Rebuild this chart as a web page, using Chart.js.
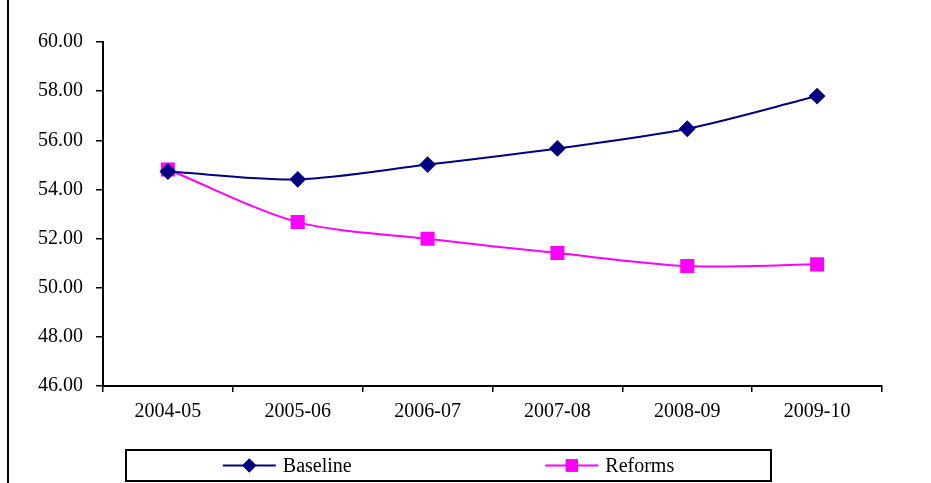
<!DOCTYPE html>
<html>
<head>
<meta charset="utf-8">
<script src="https://cdn.jsdelivr.net/npm/chart.js@4/dist/chart.umd.min.js"></script>
<style>
  html, body { margin: 0; padding: 0; background: #fff; }
  #wrap { width: 931px; height: 483px; position: relative; }
</style>
</head>
<body>
<div id="wrap"><canvas id="chart"></canvas></div>
<script>
const YEARS = ["2004-05", "2005-06", "2006-07", "2007-08", "2008-09", "2009-10"];
const BASELINE = [54.73, 54.41, 55.01, 55.67, 56.47, 57.80];
const REFORMS = [54.81, 52.67, 51.99, 51.41, 50.88, 50.95];
const Y_MIN = 46;
const Y_MAX = 60;
const Y_STEP = 2;

const FONT = "'Liberation Serif', 'Times New Roman', serif";

// frame line on the left + boxed legend at the bottom
const frameLegendPlugin = {
  id: "frameLegend",
  afterDraw(chart) {
    const { ctx } = chart;
    ctx.save();
    ctx.strokeStyle = "#000";
    ctx.lineWidth = 2;
    ctx.beginPath();
    ctx.moveTo(8, 0);
    ctx.lineTo(8, chart.height);
    ctx.stroke();

    const bx = 126, by = 450, bw = 645, bh = 31;
    ctx.strokeRect(bx, by, bw, bh);

    const ds = chart.data.datasets;
    const half = bw / ds.length;
    ctx.font = "20px " + FONT;
    ctx.textBaseline = "middle";
    ctx.fillStyle = "#000";
    ds.forEach((d, i) => {
      const tw = ctx.measureText(d.label).width;
      const total = 53 + 7 + tw;
      const x0 = bx + half * i + (half - total) / 2;
      const cy = by + bh / 2;
      ctx.strokeStyle = d.borderColor;
      ctx.lineWidth = 2;
      ctx.beginPath();
      ctx.moveTo(x0, cy);
      ctx.lineTo(x0 + 53, cy);
      ctx.stroke();
      Chart.helpers.drawPoint(ctx, {
        pointStyle: d.pointStyle,
        radius: d.pointRadius,
        borderWidth: 0,
        rotation: 0
      }, x0 + 26.5, cy);
      ctx.fillStyle = d.pointBackgroundColor;
      ctx.fill();
      ctx.fillStyle = "#000";
      ctx.fillText(d.label, x0 + 60, cy + 1);
    });
    ctx.restore();
  }
};

new Chart(document.getElementById("chart"), {
  type: "line",
  data: {
    labels: YEARS,
    datasets: [
      {
        label: "Baseline",
        data: BASELINE,
        borderColor: "#000080",
        backgroundColor: "#000080",
        pointBackgroundColor: "#000080",
        pointBorderColor: "#000080",
        pointStyle: "rectRot",
        pointRadius: 7,
        borderWidth: 2,
        tension: 0.3
      },
      {
        label: "Reforms",
        data: REFORMS,
        borderColor: "#ff00ff",
        backgroundColor: "#ff00ff",
        pointBackgroundColor: "#ff00ff",
        pointBorderColor: "#ff00ff",
        pointStyle: "rect",
        pointRadius: 8.5,
        borderWidth: 2,
        tension: 0.3
      }
    ]
  },
  options: {
    responsive: true,
    maintainAspectRatio: false,
    animation: false,
    layout: { padding: { left: 0, right: 49, top: 42, bottom: 0 } },
    plugins: {
      legend: { display: false },
      tooltip: { enabled: false }
    },
    scales: {
      x: {
        offset: true,
        afterFit(scale) { scale.height = 97; },
        grid: {
          offset: true,
          drawOnChartArea: false,
          drawTicks: true,
          tickLength: 6,
          color: "#000",
          lineWidth: 1.5
        },
        border: { color: "#000", width: 2 },
        ticks: {
          color: "#000",
          font: { family: FONT, size: 20 },
          padding: 8,
          maxRotation: 0,
          autoSkip: false
        }
      },
      y: {
        min: Y_MIN,
        max: Y_MAX,
        afterFit(scale) { scale.width = 103; },
        grid: {
          drawOnChartArea: false,
          drawTicks: true,
          tickLength: 7,
          color: "#000",
          lineWidth: 1.5
        },
        border: { color: "#000", width: 2 },
        ticks: {
          stepSize: Y_STEP,
          color: "#000",
          font: { family: FONT, size: 20 },
          padding: 13,
          callback: (v) => Number(v).toFixed(2)
        }
      }
    }
  },
  plugins: [frameLegendPlugin]
});
</script>
</body>
</html>
